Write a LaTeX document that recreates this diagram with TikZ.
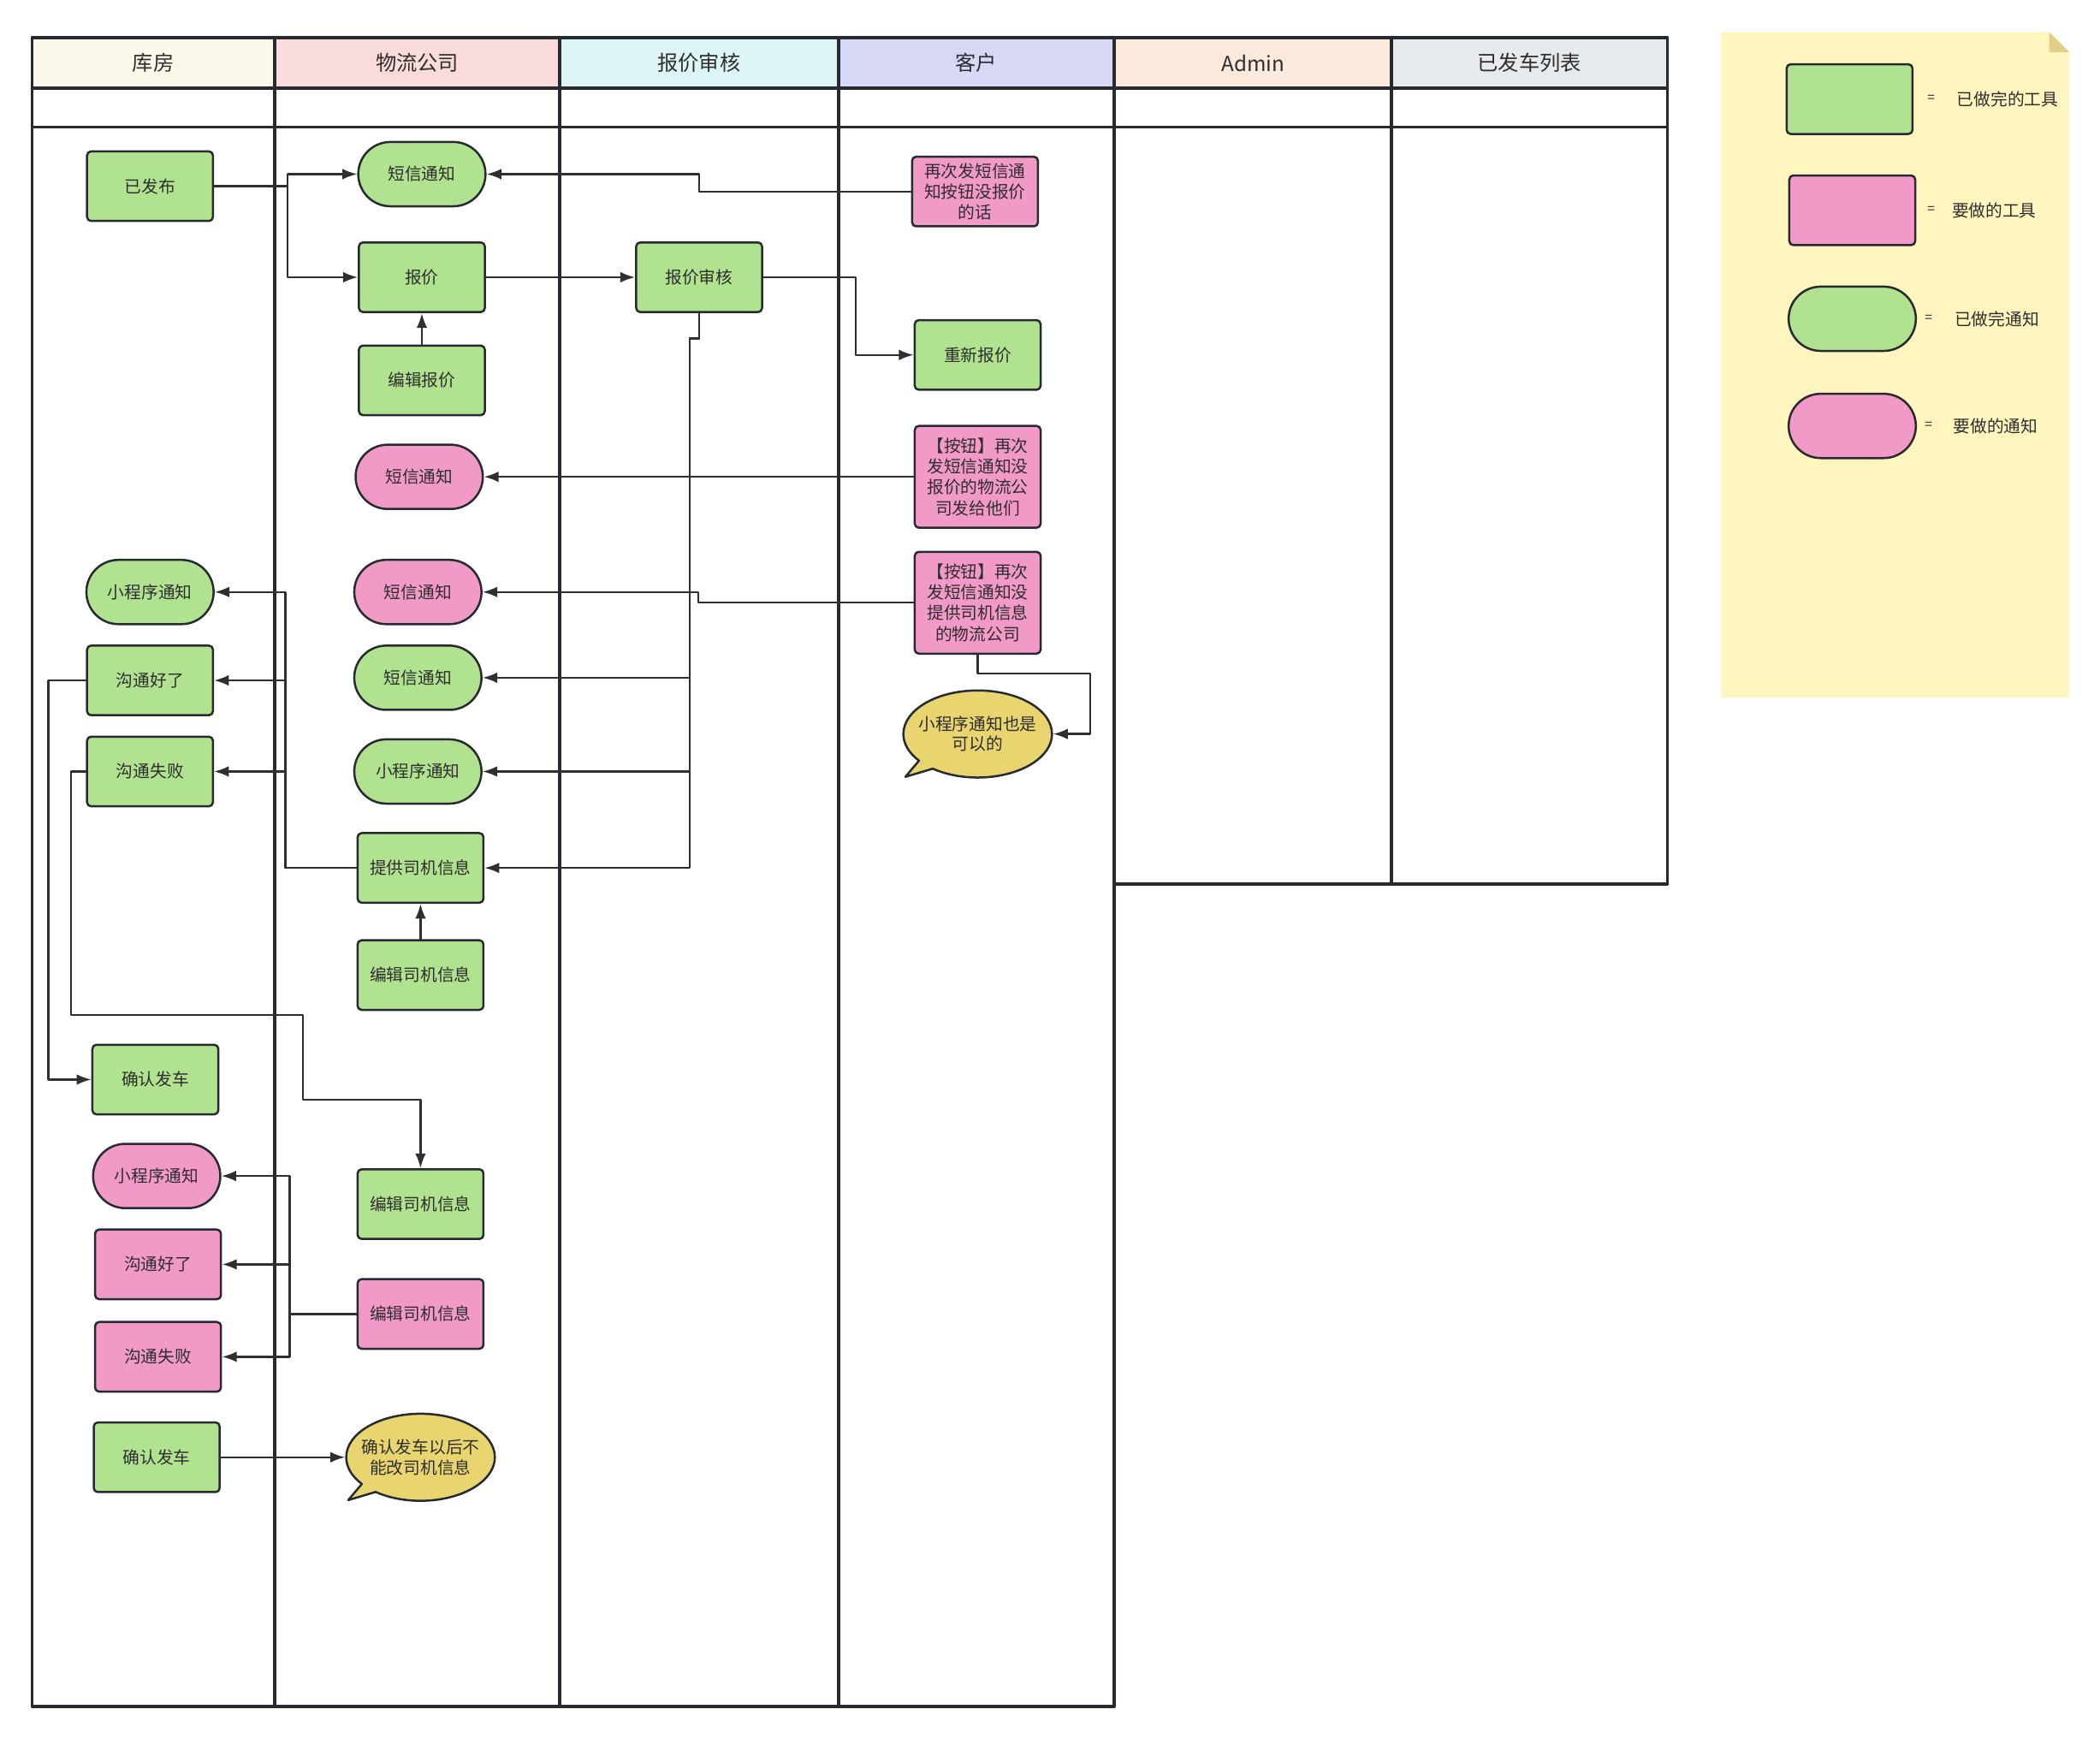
\documentclass[tikz,border=0pt]{standalone}
\usepackage{fontspec}
\setmainfont{Noto Sans CJK SC}
\usetikzlibrary{arrows.meta,shapes.callouts}
\definecolor{frameC}{HTML}{272B31}
\definecolor{lineC}{HTML}{2F2F2F}
\definecolor{txtC}{HTML}{2E2E2E}
\definecolor{doneC}{HTML}{B0E28F}
\definecolor{todoC}{HTML}{F19AC8}
\definecolor{noteC}{HTML}{E8D56F}
\definecolor{stickyC}{HTML}{FFF5BF}
\definecolor{foldC}{HTML}{E3CE88}
\definecolor{hdA}{HTML}{FCF9EB}
\definecolor{hdB}{HTML}{FADBDB}
\definecolor{hdC}{HTML}{DDF5F4}
\definecolor{hdD}{HTML}{D6D8F6}
\definecolor{hdE}{HTML}{FBEADB}
\definecolor{hdF}{HTML}{E6EAEC}
\tikzset{
  box/.style={draw=frameC,line width=1.6pt,rounded corners=3pt,minimum width=94pt,minimum height=52pt,
    inner sep=2pt,text=txtC,font=\fontsize{12.6}{15.5}\selectfont,align=center},
  done/.style={box,fill=doneC},
  todo/.style={box,fill=todoC},
  pill/.style={rounded corners=24pt,minimum width=95pt,minimum height=48pt},
  donepill/.style={done,pill},
  todopill/.style={todo,pill},
  tall/.style={minimum height=76pt},
  bubble/.style={ellipse callout,draw=frameC,line width=1.6pt,fill=noteC,minimum width=111pt,minimum height=65pt,
    inner xsep=-6pt,inner ysep=0pt,text=txtC,font=\fontsize{12.6}{15}\selectfont,align=center},
  conn/.style={draw=lineC,line width=1.5pt,-{Latex[length=11pt,width=8pt]}},
  lane/.style={draw=frameC,line width=2.4pt},
  keytxt/.style={text=txtC,font=\fontsize{12.6}{15}\selectfont},
}
\begin{document}
\begin{tikzpicture}[x=1pt,y=-1pt,line cap=round,line join=round]
  \path[use as bounding box,fill=white] (0,0) rectangle (1568,1298);
  \foreach \xa/\xb/\col/\lab/\yb [count=\i] in {24/205/hdA/库房/1274,205/418/hdB/物流公司/1274,
      418/626/hdC/报价审核/1274,626/832/hdD/客户/1274,832/1039/hdE/Admin/660,1039/1245/hdF/已发车列表/660}{
    \draw[lane,fill=\col] (\xa,28) rectangle (\xb,66);
    \node[text=txtC,font=\fontsize{15.5}{18}\selectfont] (lane\i) at ({(\xa+\xb)/2},47) {\lab};
    \draw[lane] (\xa,66) rectangle (\xb,\yb);
    \draw[draw=frameC,line width=1.6pt] (\xa,95) -- (\xb,95);
  }

  \node[done] (fabu) at (112,139) {已发布};
  \node[donepill] (kmini1) at (112,442) {小程序通知};
  \node[done] (kok1) at (112,508) {沟通好了};
  \node[done] (kfail1) at (112,576) {沟通失败};
  \node[done] (kconfirm1) at (116,806) {确认发车};
  \node[todopill] (kmini2) at (117,878) {小程序通知};
  \node[todo] (kok2) at (118,944) {沟通好了};
  \node[todo] (kfail2) at (118,1013) {沟通失败};
  \node[done] (kconfirm2) at (117,1088) {确认发车};

  \node[donepill] (sms1) at (315,130) {短信通知};
  \node[done] (baojia) at (315,207) {报价};
  \node[done] (editbj) at (315,284) {编辑报价};
  \node[todopill] (sms2) at (313,356) {短信通知};
  \node[todopill] (sms3) at (312,442) {短信通知};
  \node[donepill] (sms4) at (312,506) {短信通知};
  \node[donepill] (mini1) at (312,576) {小程序通知};
  \node[done] (tigong) at (314,648) {提供司机信息};
  \node[done] (editsj1) at (314,728) {编辑司机信息};
  \node[done] (editsj2) at (314,899) {编辑司机信息};
  \node[todo] (editsj3) at (314,981) {编辑司机信息};
  \node[bubble,callout absolute pointer={(260,1120)}] (note1) at (314,1088) {确认发车以后不\\能改司机信息};

  \node[done] (shenhe) at (522,207) {报价审核};

  \node[todo] (resend) at (728,143) {再次发短信通\\知按钮没报价\\的话};
  \node[done] (rebj) at (730,265) {重新报价};
  \node[todo,tall] (btn1) at (730,356) {【按钮】再次\\发短信通知没\\报价的物流公\\司发给他们};
  \node[todo,tall] (btn2) at (730,450) {【按钮】再次\\发短信通知没\\提供司机信息\\的物流公司};
  \node[bubble,callout absolute pointer={(676,580)}] (note2) at (730,548) {小程序通知也是\\可以的};

  \draw[conn] (fabu.east) -- ++(55,0) |- (sms1.west);
  \draw[conn] (fabu.east) -- ++(55,0) |- (baojia.west);
  \draw[conn] (editbj) -- (baojia);
  \draw[conn] (baojia) -- (shenhe);
  \draw[conn] (shenhe.east) -- ++(69,0) |- (rebj.west);
  \draw[conn] (resend.west) -- ++(-158,0) |- (sms1.east);
  \draw[conn] (btn1) -- (sms2);
  \draw[conn] (btn2.west) -- ++(-161,0) |- (sms3.east);
  \foreach \dst in {sms4,mini1,tigong}
    \draw[conn] (shenhe.south) -- ++(0,19) -- ++(-7,0) |- (\dst.east);
  \draw[conn] (btn2.south) |- ++(84,14) |- (note2.east);
  \foreach \dst in {kmini1,kok1,kfail1}
    \draw[conn] (tigong.west) -- ++(-53,0) |- (\dst.east);
  \draw[conn] (editsj1) -- (tigong);
  \draw[conn] (kok1.west) -- ++(-28,0) |- (kconfirm1.west);
  \draw[conn] (kfail1.west) -- ++(-11,0) -- ++(0,182) -- ++(173,0) -- ++(0,63) -| (editsj2.north);
  \foreach \dst in {kmini2,kok2,kfail2}
    \draw[conn] (editsj3.west) -- ++(-50,0) |- (\dst.east);
  \draw[conn] (kconfirm2) -- (note1.west);

  \fill[stickyC] (1285,24) -- (1530,24) -- (1545,39) -- (1545,521) -- (1285,521) -- cycle;
  \fill[foldC] (1530,24) -- (1545,39) -- (1530,39) -- cycle;
  \foreach \sty/\cx/\cy/\ex/\tx/\lab [count=\k] in {done/1381/74/1442/1499/已做完的工具,todo/1383/157/1442/1489/要做的工具,
      donepill/1383/238/1440/1491/已做完通知,todopill/1383/318/1440/1490/要做的通知}{
    \node[\sty] (key\k) at (\cx,\cy) {};
    \node[keytxt,font=\fontsize{10}{12}\selectfont] (eq\k) at (\ex,\cy) {=};
    \node[keytxt] (keylab\k) at (\tx,\cy) {\lab};
  }
\end{tikzpicture}
\end{document}
